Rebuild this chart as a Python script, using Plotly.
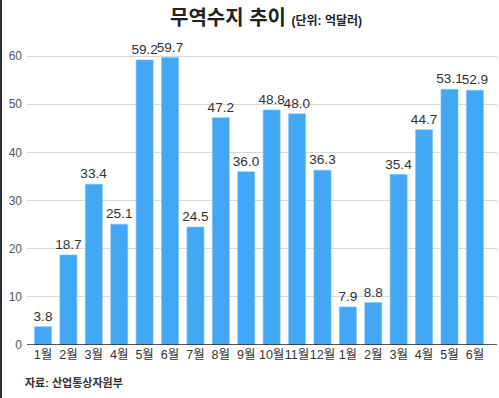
import plotly.graph_objects as go

months = ["1월", "2월", "3월", "4월", "5월", "6월", "7월", "8월", "9월", "10월", "11월", "12월",
          "1월", "2월", "3월", "4월", "5월", "6월"]
values = [3.8, 18.7, 33.4, 25.1, 59.2, 59.7, 24.5, 47.2, 36.0, 48.8, 48.0, 36.3,
          7.9, 8.8, 35.4, 44.7, 53.1, 52.9]
yticks = [0, 10, 20, 30, 40, 50, 60]

W, H = 499, 398
ML, MR, MT, MB = 27, 2, 32, 53
PW, PH = W - ML - MR, H - MT - MB

FONT = "Liberation Sans, Noto Sans CJK KR, sans-serif"
xs = list(range(len(months)))

fig = go.Figure(go.Bar(
    x=xs, y=values, width=0.67,
    marker=dict(color="#42A7F5", line=dict(color="#7cc3f8", width=0.6)),
    text=[f"{v:.1f}" for v in values], textposition="outside",
    textangle=0, constraintext="none",
    textfont=dict(size=13.6, color="#333333", family=FONT),
    cliponaxis=False,
))

def px_x(p):
    return (p - ML) / PW

def px_y(p):
    return 1 - (p - MT) / PH

fig.update_layout(
    width=W, height=H,
    margin=dict(l=ML, r=MR, t=MT, b=MB),
    plot_bgcolor="white", paper_bgcolor="white",
    showlegend=False,
    font=dict(family=FONT),
    xaxis=dict(range=[-0.63, 17.87], tickmode="array", tickvals=xs, ticktext=months,
               tickangle=0, showgrid=False, zeroline=False, showline=False, ticks="",
               tickfont=dict(size=12.5, color="#333333"), fixedrange=True, automargin=False),
    yaxis=dict(range=[0, 65], tickvals=yticks, showgrid=True, gridcolor="#d9d9d9",
               gridwidth=1, zeroline=False, showline=False, ticks="",
               tickfont=dict(size=12, color="#555555"), fixedrange=True, automargin=False,
               ticklabelstandoff=4),
    uniformtext=dict(mode=False),
    annotations=[
        dict(text="<b>무역수지 추이</b> <span style='font-size:12px'><b>(단위: 억달러)</b></span>",
             xref="paper", yref="paper", x=px_x(266), y=px_y(18), xanchor="center", yanchor="middle",
             showarrow=False, font=dict(size=20, color="#222222", family=FONT)),
        dict(text="<b>자료: 산업통상자원부</b>", xref="paper", yref="paper",
             x=px_x(23), y=px_y(382), xanchor="left", yanchor="middle",
             showarrow=False, font=dict(size=11, color="#333333", family=FONT)),
    ],
    shapes=[
        dict(type="line", xref="paper", yref="y", x0=0, x1=1, y0=0, y1=0,
             line=dict(color="#222222", width=1.5)),
        dict(type="line", xref="paper", yref="paper", x0=px_x(1), x1=px_x(1), y0=px_y(H), y1=px_y(0),
             line=dict(color="#2a2d34", width=2)),
    ],
)

fig.write_html("out.html", config={"displayModeBar": False},
               post_script="document.body.style.margin='0';document.body.style.overflow='hidden';")
